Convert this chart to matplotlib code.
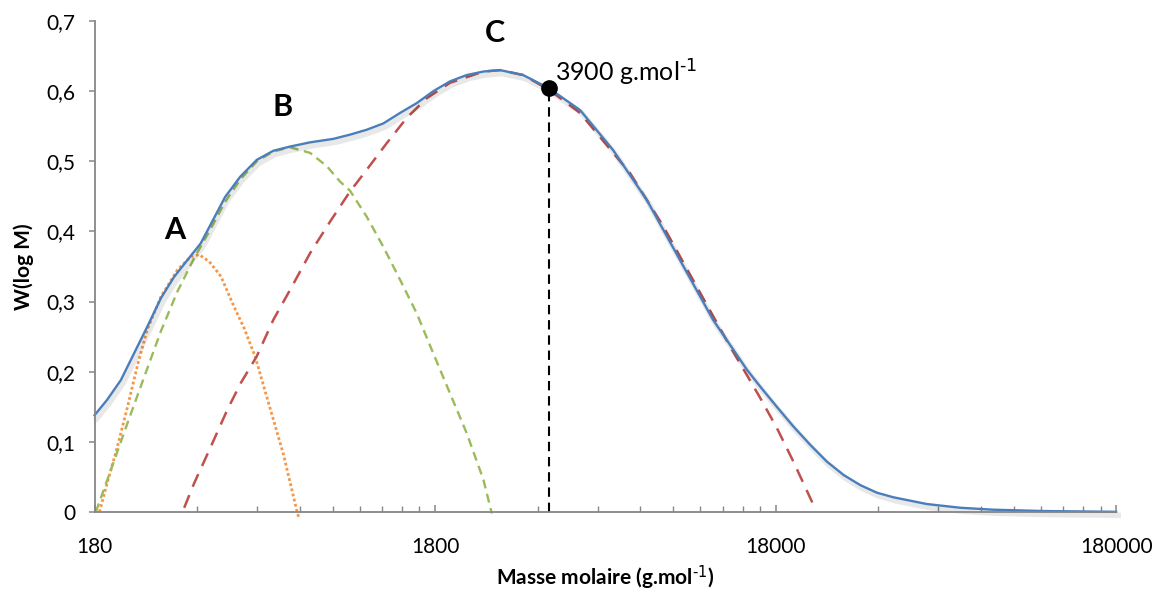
import numpy as np
import matplotlib.pyplot as plt
import matplotlib.patheffects as pe
from matplotlib.ticker import FixedLocator, FixedFormatter

plt.rcParams['font.family'] = ['Lato', 'DejaVu Sans']
plt.rcParams['mathtext.default'] = 'regular'

# total distribution W(log M)
total_m = [180, 196, 215, 235, 257, 282, 308, 337, 369, 386, 435, 482, 539, 603, 675,
           773, 905, 1013, 1134, 1269, 1421, 1591, 1779, 1992, 2231, 2496, 2795,
           3264, 3892, 4799, 5998, 7533, 9436, 11794, 14819, 16209, 18146, 20298,
           22729, 25443, 28472, 31871, 35688, 39930, 50040, 62695, 78524, 110124,
           180000]
total_w = [0.138, 0.160, 0.188, 0.226, 0.264, 0.305, 0.335, 0.359, 0.383, 0.401,
           0.449, 0.478, 0.502, 0.515, 0.521, 0.527, 0.532, 0.538, 0.545, 0.554,
           0.569, 0.583, 0.600, 0.614, 0.623, 0.628, 0.630, 0.623, 0.604, 0.573,
           0.516, 0.445, 0.359, 0.274, 0.203, 0.179, 0.150, 0.122, 0.096, 0.072,
           0.053, 0.0385, 0.0276, 0.021, 0.0114, 0.0061, 0.0033, 0.0014, 0.0003]

# population A
a_m = [186, 196, 210, 225, 240, 257, 282, 315, 345, 365, 391, 423, 462, 495, 533,
       577, 645, 706, 716]
a_w = [0.0, 0.041, 0.093, 0.150, 0.207, 0.260, 0.307, 0.345, 0.364, 0.367, 0.357,
       0.336, 0.293, 0.262, 0.222, 0.164, 0.083, 0.003, -0.008]

# population B
b_m = [181.5, 201, 225, 252, 282, 315, 353, 391, 435, 482, 539, 603, 675, 773, 866,
       947, 1013, 1134, 1269, 1421, 1591, 1779, 1992, 2231, 2496, 2642]
b_w = [0.0, 0.060, 0.127, 0.193, 0.258, 0.314, 0.362, 0.400, 0.442, 0.474, 0.500,
       0.514, 0.520, 0.512, 0.493, 0.471, 0.458, 0.421, 0.378, 0.331, 0.283, 0.226,
       0.169, 0.112, 0.046, -0.002]

# population C
c_m = [330, 353, 395, 442, 484, 539, 603, 683, 773, 885, 1013, 1134, 1299, 1487,
       1702, 1992, 2496, 2795, 3264, 3892, 4799, 6728, 8428, 10566, 13234, 16209,
       18146, 20298, 23513]
c_w = [0.006, 0.041, 0.093, 0.146, 0.184, 0.222, 0.274, 0.321, 0.369, 0.414, 0.457,
       0.488, 0.526, 0.562, 0.590, 0.612, 0.628, 0.630, 0.623, 0.602, 0.569, 0.483,
       0.407, 0.321, 0.236, 0.163, 0.120, 0.072, 0.005]

peak_m = 3900
peak_w = 0.604

x_ticks = [180, 1800, 18000, 180000]
x_labels = ['180', '1800', '18000', '180000']
y_ticks = [0, 0.1, 0.2, 0.3, 0.4, 0.5, 0.6, 0.7]
y_labels = ['0', '0,1', '0,2', '0,3', '0,4', '0,5', '0,6', '0,7']

fig = plt.figure(figsize=(11.53, 5.92), dpi=100)
ax = fig.add_axes([0.0820, 0.1351, 0.8860, 0.8294])

ax.plot(a_m, a_w, color='#F79646', lw=2.0, linestyle=(0, (1, 0.9)), clip_on=False)
ax.plot(b_m, b_w, color='#9BBB59', lw=1.7, linestyle=(0, (3.8, 2.4)), clip_on=False)
ax.plot(c_m, c_w, color='#C0504D', lw=1.8, linestyle=(0, (5.5, 3.6)), clip_on=False)
ax.plot(total_m, total_w, color='#4A7EBB', lw=1.7, clip_on=False,
        solid_joinstyle='round',
        path_effects=[pe.SimpleLineShadow(offset=(1.5, -2.5), shadow_color='black',
                                          alpha=0.09, linewidth=4),
                      pe.Normal()])

ax.plot([peak_m, peak_m], [0, peak_w], color='black', lw=1.5,
        linestyle=(0, (4.5, 2.8)))
ax.plot([peak_m], [peak_w], 'o', color='black', markersize=11)

ax.text(4050, 0.628, r'3900 g.mol$^{\text{-1}}$', fontsize=18, ha='left', va='center')
ax.text(310, 0.402, 'A', fontsize=22, fontweight='bold', ha='center', va='center')
ax.text(640, 0.578, 'B', fontsize=22, fontweight='bold', ha='center', va='center')
ax.text(2700, 0.683, 'C', fontsize=22, fontweight='bold', ha='center', va='center')

ax.set_xscale('log')
ax.set_xlim(180, 180000)
ax.set_ylim(0, 0.7)

minor = [180 * 10 ** d * k for d in range(3) for k in range(2, 10)]
ax.xaxis.set_major_locator(FixedLocator(x_ticks))
ax.xaxis.set_major_formatter(FixedFormatter(x_labels))
ax.xaxis.set_minor_locator(FixedLocator(minor))
ax.xaxis.set_minor_formatter(FixedFormatter([''] * len(minor)))
ax.yaxis.set_major_locator(FixedLocator(y_ticks))
ax.yaxis.set_major_formatter(FixedFormatter(y_labels))

for side in ['top', 'right']:
    ax.spines[side].set_visible(False)
for side in ['left', 'bottom']:
    ax.spines[side].set_color('#868686')
    ax.spines[side].set_linewidth(1.3)

ax.tick_params(axis='x', which='major', direction='in', length=5, width=1.1,
               color='#868686', labelsize=15, pad=18)
ax.tick_params(axis='x', which='minor', direction='in', length=4, width=1.0,
               color='#868686')
ax.tick_params(axis='y', direction='out', length=4, width=1.1, color='#868686',
               labelsize=15, pad=10)

ax.set_xlabel(r'Masse molaire (g.mol$^{\text{-1}}$)', fontsize=15,
              fontweight='bold', labelpad=5)
ax.set_ylabel('W(log M)', fontsize=15, fontweight='bold', labelpad=9)

plt.savefig('out.png', dpi=100)
